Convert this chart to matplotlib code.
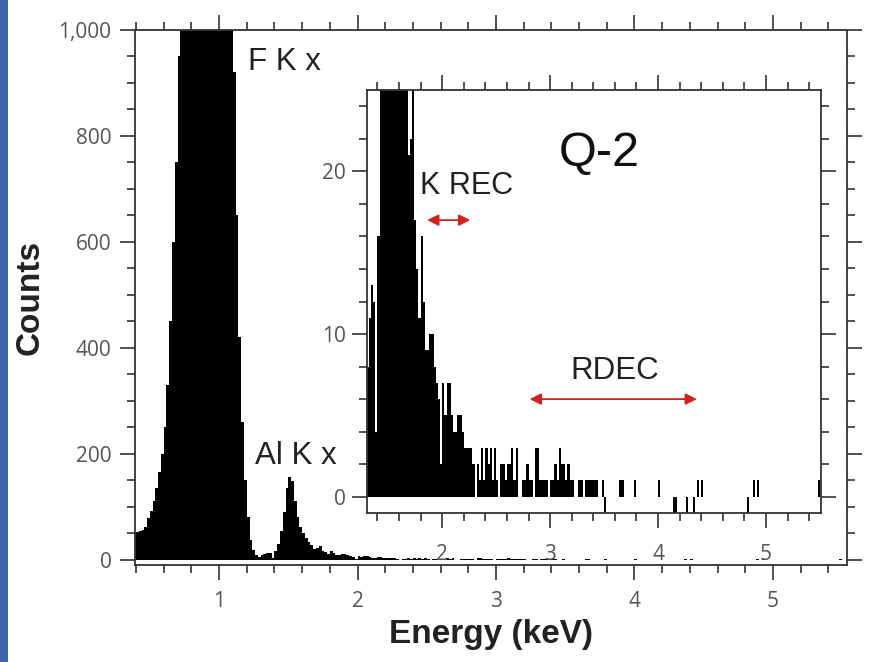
import numpy as np
import matplotlib
matplotlib.use('Agg')
import matplotlib.pyplot as plt
from matplotlib.patches import Rectangle
from matplotlib.ticker import MultipleLocator, FuncFormatter

# Spectrum: counts per 0.02 keV bin, first bin starts at 0.38 keV
bin_start = 0.38
bin_width = 0.02
counts = [
    52, 53, 54, 57, 62, 78, 92, 110, 135, 165,            # 0.38 - 0.56
    200, 250, 330, 450, 600, 750, 950, 1150, 1400, 1700,  # 0.58 - 0.76
    2000, 2300, 2500, 2650, 2700, 2700, 2650, 2500, 2300, 2050,  # 0.78 - 0.96
    1800, 1550, 1350, 1200, 1100, 1020, 920, 650, 420, 260,  # 0.98 - 1.16
    150, 80, 38, 18, 9, 6, 8, 11, 13, 12,                 # 1.18 - 1.36
    4, 16, 30, 55, 90, 135, 157, 148, 110, 80,            # 1.38 - 1.56
    62, 50, 41, 33, 28, 21, 22, 26, 17, 14,               # 1.58 - 1.76
    11, 16, 12, 9, 9, 10, 10, 8, 7, 6,                    # 1.78 - 1.96
    2, 7, 5, 7, 7, 5, 4, 4, 5, 5,                         # 1.98 - 2.16
    4, 3, 3, 3, 3, 2, 0, 2, 1, 3,                         # 2.18 - 2.36
    1, 3, 2, 3, 1, 3, 1, 0, 2, 2,                         # 2.38 - 2.56
    1, 2, 2, 3, 1, 3, 0, 0, 1, 1,                         # 2.58 - 2.76
    2, 1, 1, 0, 3, 3, 1, 1, 1, 1,                         # 2.78 - 2.96
    0, 1, 1, 2, 1, 3, 2, 2, 1, 2,                         # 2.98 - 3.16
    1, 1, 0, 0, 1, 1, 0, 1, 1, 1,                         # 3.18 - 3.36
    1, 1, 1, 0, 0, 1, -1, 0, 0, 0,                        # 3.38 - 3.56
    0, 0, 0, 1, 1, 0, 0, 0, 0, 0,                         # 3.58 - 3.76
    1, 0, 0, 0, 0, 0, 0, 0, 0, 0,                         # 3.78 - 3.96
    0, 1, 0, 0, 0, 0, 0, 0, -1, -1,                       # 3.98 - 4.16
    0, 0, 0, 0, -1, 0, 0, -1, 0, 1,                       # 4.18 - 4.36
    0, 1, 0, 0, 0, 0, 0, 0, 0, 0,                         # 4.38 - 4.56
    0, 0, 0, 0, 0, 0, 0, 0, 0, 0,                         # 4.58 - 4.76
    0, 0, -1, 0, 0, 1, 0, 1, 0, 0,                        # 4.78 - 4.96
    0, 0, 0, 0, 0, 0, 0, 0, 0, 0,                         # 4.98 - 5.16
    0, 0, 0, 0, 0, 0, 0, 0, 0, 0,                         # 5.18 - 5.36
    0, 0, 0, 0, 0, 1, 0, 0,                               # 5.38 - 5.52
]
edges = bin_start + bin_width * np.arange(len(counts) + 1)

# marked energy ranges in the inset (keV) and arrow heights (counts)
krec_range = (1.86, 2.26)
krec_y = 17
rdec_range = (2.81, 4.36)
rdec_y = 6

tick_font = 'Open Sans'
text_font = 'Liberation Sans'
tick_color = '#555555'
frame_color = '#333333'
arrow_color = '#d42020'

fig = plt.figure(figsize=(8.69, 6.62), dpi=100)

# blue strip at the left edge
fig.add_artist(Rectangle((0, 0), 8 / 869, 1, transform=fig.transFigure,
                         color='#3e66a8', lw=0))

# main axes
ax = fig.add_axes([135 / 869, 1 - 565 / 662, (847 - 135) / 869, (565 - 30) / 662])
ax.stairs(counts, edges, baseline=0, fill=True, color='black', lw=0)
ax.set_xlim(0.393, 5.535)
ax.set_ylim(-10, 1000)
ax.xaxis.set_major_locator(MultipleLocator(1))
ax.xaxis.set_minor_locator(MultipleLocator(0.2))
ax.yaxis.set_major_locator(MultipleLocator(200))
ax.yaxis.set_minor_locator(MultipleLocator(50))
ax.yaxis.set_major_formatter(FuncFormatter(lambda v, p: f'{int(v):,}'))
ax.set_xlabel('Energy (keV)', fontsize=24, fontweight='bold', family=text_font,
              color='#222222', labelpad=5)
ax.set_ylabel('Counts', fontsize=24, fontweight='bold', family=text_font,
              color='#222222', labelpad=9)
ax.text(1.21, 940, 'F K x', fontsize=22.5, family=text_font, color='#222222',
        ha='left', va='center')
ax.text(1.26, 195, 'Al K x', fontsize=22.5, family=text_font, color='#222222',
        ha='left', va='center')

# inset axes
ax_in = fig.add_axes([367 / 869, 1 - 513 / 662, (821 - 367) / 869, (513 - 90) / 662])
ax_in.stairs(counts, edges, baseline=0, fill=True, color='black', lw=0)
ax_in.set_xlim(1.303, 5.51)
ax_in.set_ylim(-1, 25)
ax_in.xaxis.set_major_locator(MultipleLocator(1))
ax_in.xaxis.set_minor_locator(MultipleLocator(0.2))
ax_in.yaxis.set_major_locator(MultipleLocator(10))
ax_in.yaxis.set_minor_locator(MultipleLocator(2))
ax_in.text(3.46, 21.1, 'Q-2', fontsize=35, family=text_font, color='#111111',
           ha='center', va='center')
ax_in.text(2.23, 19.1, 'K REC', fontsize=22, family=text_font, color='#222222',
           ha='center', va='center')
ax_in.text(3.60, 7.7, 'RDEC', fontsize=22.5, family=text_font, color='#222222',
           ha='center', va='center')
for (x0, x1), y in [(krec_range, krec_y), (rdec_range, rdec_y)]:
    ax_in.annotate('', xy=(x1, y), xytext=(x0, y),
                   arrowprops=dict(arrowstyle='<|-|>', color=arrow_color, lw=1.3,
                                   mutation_scale=17, shrinkA=0, shrinkB=0))

for a in (ax, ax_in):
    a.tick_params(which='both', direction='out', top=True, right=True,
                  color=frame_color, width=1.2, labelcolor=tick_color)
    a.tick_params(which='major', length=11, labelsize=15)
    a.tick_params(which='minor', length=6)
    for s in a.spines.values():
        s.set_linewidth(1.3)
        s.set_color(frame_color)
    for lab in a.get_xticklabels() + a.get_yticklabels():
        lab.set_family(tick_font)
ax.tick_params(axis='x', pad=8)
ax.tick_params(axis='y', pad=6)
ax_in.tick_params(axis='x', pad=11)
ax_in.tick_params(axis='y', pad=4)

fig.savefig('out.png', dpi=100)
